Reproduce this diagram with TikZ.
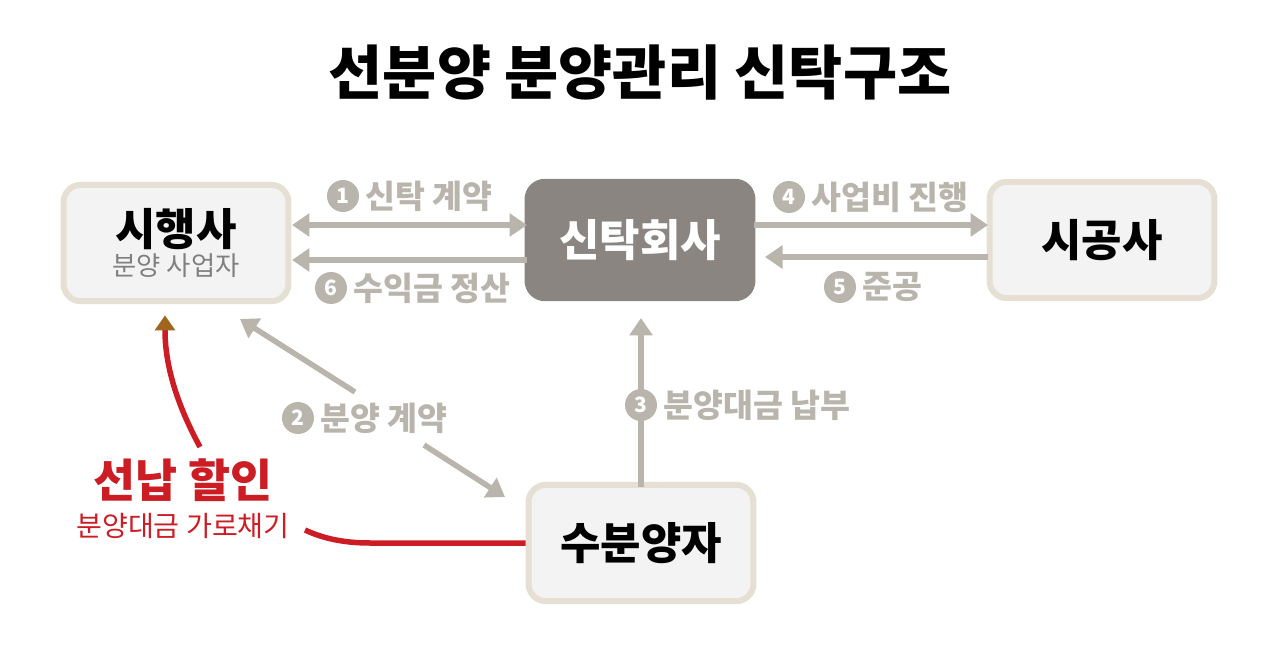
\documentclass[tikz,border=0pt]{standalone}
\usepackage{fontspec}
\setmainfont{Noto Sans CJK KR}
\usetikzlibrary{arrows.meta,shapes.geometric}
\definecolor{boxline}{HTML}{E6DFD3}
\definecolor{boxfill}{HTML}{F3F3F3}
\definecolor{darkbox}{HTML}{8A8580}
\definecolor{flow}{HTML}{B9B4AC}
\definecolor{redline}{HTML}{CC1D25}
\definecolor{tip}{HTML}{A0651E}
\tikzset{
  party/.style={draw=boxline,fill=boxfill,line width=1.2mm,rounded corners=3.5mm,minimum width=4.5cm,minimum height=2.33cm,align=center},
  flowarrow/.style={draw=flow,line width=1.1mm,-{Triangle[length=3.5mm,width=4.5mm]}},
  num/.style={circle,fill=flow,text=white,inner sep=0pt,minimum size=6.4mm,font=\bfseries\fontsize{12}{12}\selectfont},
  lbl/.style={text=flow,font=\bfseries\fontsize{18.5}{18}\selectfont}
}
\begin{document}
\begin{tikzpicture}[x=0.02cm,y=-0.02cm]
\useasboundingbox (0,0) rectangle (1279,666);
\node[font=\bfseries\fontsize{33.5}{34}\selectfont] (title) at (640,72) {선분양 분양관리 신탁구조};
\node[party] (v1) at (176,243) {{\bfseries\fontsize{25}{30}\selectfont 시행사}\\[1pt]{\color{gray}\fontsize{15}{17}\selectfont 분양 사업자}};
\node[party,draw=darkbox,fill=darkbox,text=white,font=\bfseries\fontsize{25}{28}\selectfont] (v2) at (640,240) {신탁회사};
\node[party,font=\bfseries\fontsize{25}{28}\selectfont] (v3) at (1102,240) {시공사};
\node[party,font=\bfseries\fontsize{25}{28}\selectfont] (v4) at (641,543) {수분양자};
% arrows
\coordinate (a1) at (292,225); \coordinate (b1) at (527,225);
\coordinate (a6) at (527,260); \coordinate (b6) at (292,260);
\coordinate (a4) at (754,225); \coordinate (b4) at (988,225);
\coordinate (a5) at (988,257); \coordinate (b5) at (765,257);
\coordinate (c2) at (355,392); \coordinate (e2) at (240,319);
\coordinate (d2) at (424,445); \coordinate (f2) at (505,497);
\coordinate (c3) at (641,487); \coordinate (e3) at (641,318);
\draw[flowarrow,{Triangle[length=3.5mm,width=4.5mm]}-{Triangle[length=3.5mm,width=4.5mm]}] (a1) -- (b1);
\draw[flowarrow] (a6) -- (b6);
\draw[flowarrow] (a4) -- (b4);
\draw[flowarrow] (a5) -- (b5);
\draw[flowarrow] (c2) -- (e2);
\draw[flowarrow] (d2) -- (f2);
\draw[flowarrow] (c3) -- (e3);
% labels
\node[num] (n1) at (343,196) {1};
\node[lbl,right=0pt] (l1) at (n1.east) {신탁 계약};
\node[num] (n6) at (331,288) {6};
\node[lbl,right=0pt] (l6) at (n6.east) {수익금 정산};
\node[num] (n4) at (789,197) {4};
\node[lbl,right=0pt] (l4) at (n4.east) {사업비 진행};
\node[num] (n5) at (840,287) {5};
\node[lbl,right=0pt] (l5) at (n5.east) {준공};
\node[num] (n2) at (298,418) {2};
\node[lbl,right=0pt] (l2) at (n2.east) {분양 계약};
\node[num] (n3) at (641,405) {3};
\node[lbl,right=0pt] (l3) at (n3.east) {분양대금 납부};
% red part
\node[text=redline,font=\bfseries\fontsize{26}{26}\selectfont] (r1) at (183,480) {선납 할인};
\node[text=redline,font=\fontsize{16}{16}\selectfont] (r2) at (183,526) {분양대금 가로채기};
\coordinate (k1) at (305,530);
\coordinate (k2) at (200,447); \coordinate (k3) at (165,330);
\draw[redline,line width=1.1mm] (v4.west) -- (370,543) .. controls (340,543) and (320,537) .. (k1);
\draw[redline,line width=1.1mm] (k2) .. controls (180,410) and (165,370) .. (k3);
\node[fill=tip,isosceles triangle,shape border rotate=90,isosceles triangle stretches,inner sep=0pt,minimum width=4.2mm,minimum height=3mm] (t) at (165,325) {};
\end{tikzpicture}
\end{document}
